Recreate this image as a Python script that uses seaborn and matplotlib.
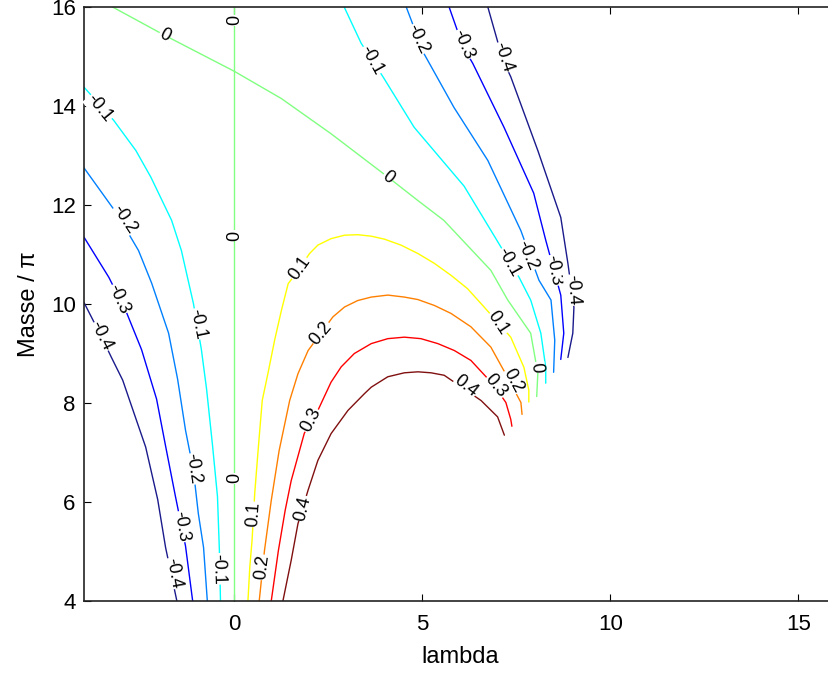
import numpy as np
import seaborn as sns
import matplotlib
matplotlib.use("Agg")
import matplotlib.pyplot as plt

# contour lines (lambda, Masse/pi)
# left family
m01_x = [-4.0, -3.21, -2.62, -2.22, -1.67, -1.41, -1.09, -0.88, -0.74, -0.58, -0.45, -0.40, -0.37]
m01_y = [14.38, 13.71, 13.1, 12.56, 11.69, 11.08, 10.01, 9.09, 8.28, 7.13, 6.11, 5.04, 4.0]
m02_x = [-4.0, -3.13, -2.55, -2.2, -1.75, -1.51, -1.30, -1.09, -0.96, -0.82, -0.72]
m02_y = [12.75, 11.83, 11.08, 10.42, 9.41, 8.48, 7.45, 6.64, 5.77, 5.08, 4.0]
m03_x = [-4.0, -3.34, -2.87, -2.47, -2.23, -2.07, -1.83, -1.57, -1.30, -1.11]
m03_y = [11.35, 10.54, 9.83, 9.08, 8.48, 8.08, 7.13, 6.12, 5.11, 4.0]
m04_x = [-4.0, -3.53, -3.27, -2.97, -2.79, -2.36, -2.04, -1.83, -1.53]
m04_y = [10.03, 9.33, 8.92, 8.46, 8.06, 7.11, 6.05, 5.08, 4.0]
zero_v_x = [0.0, 0.0]
zero_v_y = [4.0, 16.0]

# upper right family
zero_x = [-3.24, -1.86, 0.0, 1.25, 2.57, 4.09, 4.88, 5.57, 6.82, 7.27, 7.88, 8.07, 8.04]
zero_y = [16.0, 15.43, 14.7, 14.15, 13.44, 12.56, 12.09, 11.69, 10.68, 10.08, 9.41, 8.6, 8.13]
n01_x = [2.92, 3.37, 3.96, 4.78, 6.11, 7.01, 7.57, 7.88, 8.15, 8.28, 8.28]
n01_y = [16.0, 15.27, 14.58, 13.57, 12.38, 11.25, 10.54, 10.08, 9.41, 8.72, 8.4]
n02_x = [4.57, 5.04, 5.84, 6.74, 7.62, 8.1, 8.42, 8.52, 8.49]
n02_y = [16.0, 15.06, 13.97, 12.9, 11.48, 10.48, 10.08, 9.27, 8.62]
n03_x = [5.71, 6.08, 6.34, 7.17, 7.96, 8.28, 8.68, 8.76, 8.68]
n03_y = [16.0, 15.2, 14.86, 13.57, 12.24, 11.29, 10.18, 9.41, 8.88]
n04_x = [6.74, 7.14, 7.35, 8.07, 8.68, 8.87, 9.03, 9.0, 8.87]
n04_y = [16.0, 14.93, 14.59, 13.1, 11.75, 10.82, 9.93, 9.41, 8.92]

# positive arcs
p01_x = [0.36, 0.41, 0.47, 0.54, 0.63, 0.74, 0.89, 1.07, 1.25, 1.43, 1.60, 2.0, 2.22, 2.57,
         2.93, 3.28, 3.64, 3.99, 4.43, 4.88, 5.32, 5.76, 6.20, 6.64, 7.35, 7.70, 7.83, 7.83]
p01_y = [4.0, 4.69, 5.23, 6.17, 7.04, 8.05, 8.59, 9.27, 9.87, 10.41, 10.58, 11.02, 11.19, 11.32,
         11.39, 11.40, 11.37, 11.31, 11.19, 11.02, 10.82, 10.58, 10.31, 9.94, 9.33, 8.72, 8.26, 8.02]
p02_x = [0.66, 0.80, 0.98, 1.19, 1.47, 1.69, 1.96, 2.62, 2.93, 3.28, 3.64, 4.08, 4.52, 4.88,
         5.32, 5.76, 6.29, 6.82, 7.17, 7.62, 7.65]
p02_y = [4.0, 5.02, 6.03, 7.04, 8.05, 8.59, 9.06, 9.74, 9.94, 10.07, 10.14, 10.18, 10.14, 10.09,
         9.97, 9.81, 9.54, 9.13, 8.65, 8.01, 7.77]
p03_x = [0.98, 1.17, 1.35, 1.51, 1.86, 2.22, 2.57, 2.84, 3.19, 3.64, 4.08, 4.52, 4.96, 5.41,
         5.85, 6.29, 6.90, 7.22, 7.35, 7.38]
p03_y = [4.0, 5.02, 5.83, 6.43, 7.39, 7.85, 8.42, 8.73, 9.0, 9.20, 9.30, 9.33, 9.30, 9.20,
         9.06, 8.86, 8.36, 8.01, 7.67, 7.53]
p04_x = [1.29, 1.51, 1.69, 1.96, 2.22, 2.57, 3.02, 3.46, 3.64, 4.08, 4.52, 4.88, 5.23, 5.58,
         6.56, 7.0, 7.18]
p04_y = [4.0, 4.82, 5.56, 6.24, 6.84, 7.38, 7.85, 8.19, 8.32, 8.53, 8.61, 8.63, 8.61, 8.56,
         8.05, 7.72, 7.35]

# label positions per line
m01_lab = [(-3.6, 13.95), (-0.97, 9.6), (-0.42, 4.65)]
m02_lab = [(-2.92, 11.7), (-1.09, 6.67)]
m03_lab = [(-3.07, 10.1), (-1.41, 5.5)]
m04_lab = [(-3.53, 9.35), (-1.62, 4.56)]
zero_v_lab = [(0.0, 15.73), (0.0, 11.38), (0.0, 6.48)]
zero_lab = [(-1.86, 15.43), (4.09, 12.56), (8.02, 8.72)]
n01_lab = [(3.64, 14.92), (7.3, 10.84)]
n02_lab = [(4.88, 15.35), (7.8, 10.98)]
n03_lab = [(6.08, 15.24), (8.5, 10.68)]
n04_lab = [(7.14, 14.98), (9.0, 10.28)]
p01_lab = [(1.73, 10.72), (0.5, 5.75), (7.01, 9.61)]
p02_lab = [(2.31, 9.41), (0.74, 4.68), (7.41, 8.44)]
p03_lab = [(2.04, 7.65), (6.96, 8.34)]
p04_lab = [(1.83, 5.87), (6.16, 8.34)]

lines = [
    (-0.4, m04_x, m04_y, m04_lab), (-0.3, m03_x, m03_y, m03_lab),
    (-0.2, m02_x, m02_y, m02_lab), (-0.1, m01_x, m01_y, m01_lab),
    (0.0, zero_v_x, zero_v_y, zero_v_lab), (0.0, zero_x, zero_y, zero_lab),
    (-0.1, n01_x, n01_y, n01_lab), (-0.2, n02_x, n02_y, n02_lab),
    (-0.3, n03_x, n03_y, n03_lab), (-0.4, n04_x, n04_y, n04_lab),
    (0.1, p01_x, p01_y, p01_lab), (0.2, p02_x, p02_y, p02_lab),
    (0.3, p03_x, p03_y, p03_lab), (0.4, p04_x, p04_y, p04_lab),
]

# jet-like colours per level
colors = {-0.4: "#1a1a8c", -0.3: "#0000ff", -0.2: "#0080ff", -0.1: "#00ffff",
          0.0: "#80ff80", 0.1: "#ffff00", 0.2: "#ff8000", 0.3: "#ff0000",
          0.4: "#801010"}

sns.set_style("ticks")
plt.rcParams["font.family"] = ["Liberation Sans", "DejaVu Sans"]
plt.rcParams["text.color"] = "black"
plt.rcParams["axes.labelcolor"] = "black"

fig = plt.figure(figsize=(8.29, 6.75), dpi=100)
ax = fig.add_axes([84 / 829, 74 / 675, 752 / 829, 594 / 675])
ax.set_xlim(-4, 16)
ax.set_ylim(4, 16)

for lev, xs, ys, labs in lines:
    sns.lineplot(x=xs, y=ys, sort=False, estimator=None, color=colors[lev],
                 linewidth=1.0, ax=ax, legend=False)

def label_angle(xs, ys, lx, ly):
    pts = ax.transData.transform(np.column_stack([xs, ys]))
    p = ax.transData.transform((lx, ly))
    i = int(np.argmin(np.hypot(*(pts - p).T)))
    j0, j1 = max(i - 1, 0), min(i + 1, len(xs) - 1)
    dx, dy = pts[j1] - pts[j0]
    ang = np.degrees(np.arctan2(dy, dx))
    if ang > 90:
        ang -= 180
    if ang <= -90:
        ang += 180
    return ang

for lev, xs, ys, labs in lines:
    txt = "0" if lev == 0 else f"{lev:g}"
    for lx, ly in labs:
        ax.text(lx, ly, txt, rotation=label_angle(xs, ys, lx, ly),
                rotation_mode="anchor", ha="center", va="center",
                fontsize=13, color="black", zorder=5,
                bbox=dict(facecolor="white", edgecolor="none", pad=0.2))

ax.set_xticks([0, 5, 10, 15])
ax.set_yticks([4, 6, 8, 10, 12, 14, 16])
ax.tick_params(direction="in", length=5, width=0.8, top=True, right=True,
               labelsize=16, colors="black")
ax.tick_params(axis="x", pad=9)
ax.tick_params(axis="y", pad=6)
for s in ax.spines.values():
    s.set_linewidth(1.2)
    s.set_color("#222222")
ax.set_xlabel("lambda", fontsize=17, labelpad=8)
ax.set_ylabel("Masse / π", fontsize=17, labelpad=8)

fig.savefig("out.png", dpi=100)
